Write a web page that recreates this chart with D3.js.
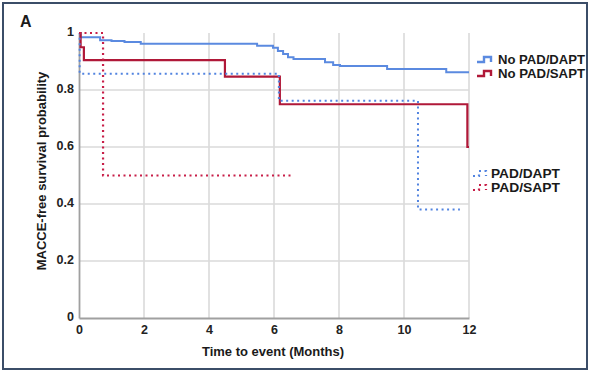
<!DOCTYPE html>
<html>
<head>
<meta charset="utf-8">
<script src="https://cdn.jsdelivr.net/npm/d3@7/dist/d3.min.js"></script>
<style>
  html, body { margin: 0; padding: 0; background: #fff; }
  svg { display: block; font-family: "Liberation Sans", Arial, sans-serif; }
</style>
</head>
<body>
<svg id="chart" width="589" height="371"></svg>
<script>
// Kaplan-Meier step data (time in months, survival probability)
const noPadDaptTime = [0, 0.05, 0.65, 1.0, 1.4, 1.9, 5.48, 5.97, 6.12, 6.28, 6.43, 6.6, 7.57, 7.82, 8.03, 9.48, 11.3, 12];
const noPadDaptSurv = [1, 0.985, 0.975, 0.972, 0.968, 0.962, 0.955, 0.948, 0.937, 0.926, 0.915, 0.909, 0.897, 0.888, 0.884, 0.874, 0.862, 0.862];

const noPadSaptTime = [0, 0.05, 0.15, 4.49, 6.18, 11.95, 12];
const noPadSaptSurv = [1, 0.95, 0.905, 0.847, 0.75, 0.6, 0.6];

const padDaptTime = [0, 0.02, 6.15, 10.43, 11.72];
const padDaptSurv = [1, 0.857, 0.762, 0.381, 0.381];

const padSaptTime = [0, 0.74, 6.6];
const padSaptSurv = [1, 0.5, 0.5];

const xTicks = [0, 2, 4, 6, 8, 10, 12];
const yTicks = [0, 0.2, 0.4, 0.6, 0.8, 1];
const groupNames = ["No PAD/DAPT", "No PAD/SAPT", "PAD/DAPT", "PAD/SAPT"];

const svg = d3.select("#chart");

// outer frame
svg.append("rect")
  .attr("x", 3).attr("y", 3).attr("width", 584).attr("height", 366)
  .attr("fill", "#fff").attr("stroke", "#3b4d68").attr("stroke-width", 2);

const x = d3.scaleLinear().domain([0, 12]).range([79, 469]);
const y = d3.scaleLinear().domain([0, 1]).range([318, 33]);

// grid
const grid = svg.append("g");
grid.selectAll("line.v").data(xTicks.slice(1)).join("line")
  .attr("x1", d => x(d)).attr("x2", d => x(d))
  .attr("y1", y(0)).attr("y2", y(1))
  .attr("stroke", "#dadada").attr("stroke-width", 1.6);
grid.selectAll("line.h").data(yTicks.slice(1, -1)).join("line")
  .attr("x1", x(0)).attr("x2", x(12))
  .attr("y1", d => y(d)).attr("y2", d => y(d))
  .attr("stroke", "#dadada").attr("stroke-width", 1.6);

// axes
const xAxis = svg.append("g").attr("transform", `translate(0,${y(0)})`)
  .call(d3.axisBottom(x).tickValues(xTicks).tickSize(0).tickPadding(7).tickFormat(d3.format("d")));
const yAxis = svg.append("g").attr("transform", `translate(${x(0)},0)`)
  .call(d3.axisLeft(y).tickValues(yTicks).tickSize(0).tickPadding(5)
    .tickFormat(d => d === 0 || d === 1 ? String(d) : d3.format(".1f")(d)));
[xAxis, yAxis].forEach(a => {
  a.select(".domain").attr("stroke", "#a0a0a0").attr("stroke-width", 1.8);
  a.selectAll("text").attr("font-size", 12.5).attr("font-weight", "bold").attr("fill", "#222")
    .attr("font-family", "Liberation Sans, Arial, sans-serif");
});
yAxis.selectAll("text").attr("dy", "0.22em");

// curves
const series = [
  { t: noPadDaptTime, s: noPadDaptSurv, color: "#5b8ae0", dash: null, width: 2 },
  { t: noPadSaptTime, s: noPadSaptSurv, color: "#b01838", dash: null, width: 2.2 },
  { t: padDaptTime, s: padDaptSurv, color: "#5284e0", dash: "2,3.5", width: 2 },
  { t: padSaptTime, s: padSaptSurv, color: "#c81e48", dash: "2,3.5", width: 2.2 }
];
const line = d3.line().x(d => x(d[0])).y(d => y(d[1])).curve(d3.curveStepAfter);
series.forEach(sr => {
  svg.append("path")
    .datum(sr.t.map((t, i) => [t, sr.s[i]]))
    .attr("d", line)
    .attr("fill", "none")
    .attr("stroke", sr.color)
    .attr("stroke-width", sr.width)
    .attr("stroke-dasharray", sr.dash);
});

// legend
const legendRows = [
  { sx: 477, tx: 498, by: 64, len: 87 },
  { sx: 477, tx: 498, by: 78, len: 87 },
  { sx: 473, tx: 491, by: 178, len: 69 },
  { sx: 473, tx: 491, by: 192, len: 69 }
];
legendRows.forEach((r, i) => {
  const sr = series[i];
  const cy = r.by - 4;
  const w = i < 2 ? 7 : 6;
  svg.append("path")
    .attr("d", `M${r.sx},${cy + 2}H${r.sx + w}V${cy - 3}H${r.sx + w + 7}V${cy + 2}`)
    .attr("fill", "none").attr("stroke", sr.color)
    .attr("stroke-width", i < 2 ? 2.4 : 2.2)
    .attr("stroke-dasharray", sr.dash);
  svg.append("text")
    .attr("x", r.tx).attr("y", r.by)
    .attr("font-size", 12).attr("font-weight", "bold").attr("fill", "#1a1a1a")
    .attr("textLength", r.len).attr("lengthAdjust", "spacingAndGlyphs")
    .text(groupNames[i]);
});

// titles
svg.append("text")
  .attr("x", 273).attr("y", 356).attr("text-anchor", "middle")
  .attr("font-size", 13).attr("font-weight", "bold").attr("fill", "#1a1a1a")
  .text("Time to event (Months)");
svg.append("text")
  .attr("transform", "translate(46,171) rotate(-90)").attr("text-anchor", "middle")
  .attr("font-size", 13).attr("font-weight", "bold").attr("fill", "#1a1a1a")
  .text("MACCE-free survival probability");
svg.append("text")
  .attr("x", 20).attr("y", 27)
  .attr("font-size", 16).attr("font-weight", "bold").attr("fill", "#1a1a1a")
  .text("A");
</script>
</body>
</html>
